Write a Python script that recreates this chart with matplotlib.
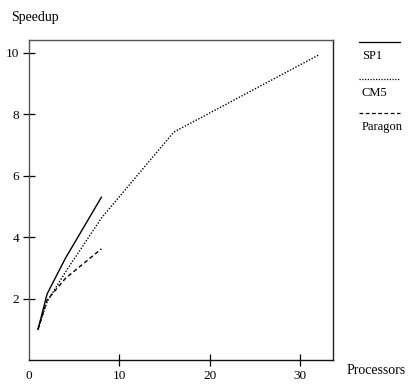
import matplotlib
matplotlib.use("Agg")
import matplotlib.pyplot as plt
from matplotlib.lines import Line2D

plt.rcParams['font.family'] = ['Liberation Serif', 'DejaVu Serif']

# data
sp1_x = [1, 2, 4, 8]
sp1_y = [1.0, 2.15, 3.3, 5.3]
cm5_x = [1, 2, 4, 8, 16, 32]
cm5_y = [1.0, 1.9, 2.85, 4.62, 7.42, 9.93]
par_x = [1, 2, 4, 8]
par_y = [1.0, 1.95, 2.65, 3.62]

names = ['SP1', 'CM5', 'Paragon']

fig = plt.figure(figsize=(4.09, 3.84), dpi=100)
ax = fig.add_axes([29/409, 24/384, 304/409, 320/384])

ax.plot(sp1_x, sp1_y, color='k', lw=1.0, ls='-')
ax.plot(cm5_x, cm5_y, color='k', lw=1.0, ls=(0, (1, 1.2)))
ax.plot(par_x, par_y, color='k', lw=1.0, ls=(0, (3, 2)))

ax.set_xlim(0, 33.6)
ax.set_ylim(0, 10.42)
ax.set_xticks([0, 10, 20, 30])
ax.set_yticks([2, 4, 6, 8, 10])
ax.tick_params(direction='inout', length=8, width=0.9, labelsize=9.5, pad=3)
for s in ax.spines.values():
    s.set_linewidth(1.0)
ax.spines['left'].set_color('#555555')
ax.spines['top'].set_color('#555555')
ax.spines['right'].set_color('#222222')
ax.spines['bottom'].set_color('#111111')
# no tick mark at 0 in the reference
ax.xaxis.get_major_ticks()[0].tick1line.set_visible(False)
ax.xaxis.get_major_ticks()[0].tick2line.set_visible(False)

fig.text(11/409, 1 - 18/384, 'Speedup', fontsize=10, va='center', ha='left')
fig.text(347/409, 1 - 370/384, 'Processors', fontsize=10, va='center', ha='left')

# legend: sample line above each label
leg_line_y = [42, 79, 113]
dash = ['-', (0, (1, 1.2)), (0, (3, 2))]
for name, ly, d in zip(names, leg_line_y, dash):
    fig.add_artist(Line2D([359/409, 400/409], [1 - ly/384, 1 - ly/384],
                          color='k', lw=0.9, ls=d, transform=fig.transFigure))
    fig.text(362/409, 1 - (ly + 14)/384, name, fontsize=9, va='center', ha='left')

fig.savefig('out.png', dpi=100)
